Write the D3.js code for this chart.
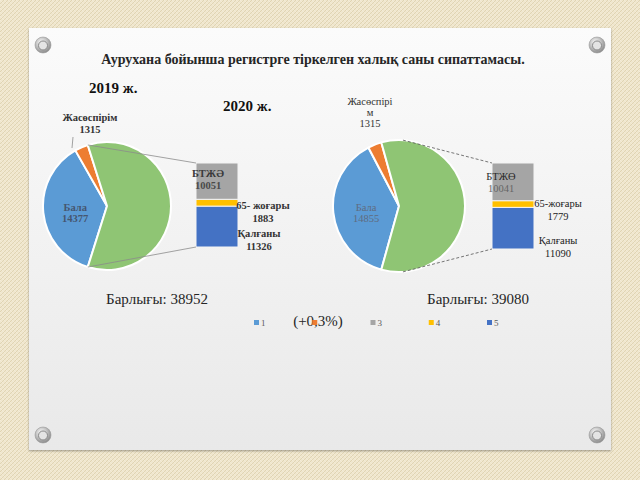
<!DOCTYPE html>
<html><head><meta charset="utf-8">
<script src="https://cdn.jsdelivr.net/npm/d3@7"></script>
<style>html,body{margin:0;padding:0;background:#eee5cb;} svg{display:block}</style>
</head><body>
<script>
// ---------- DATA ----------
const title = "Аурухана бойынша регистрге тіркелген халық саны сипаттамасы.";
const years = ["2019 ж.", "2020 ж."];
const pieLabels2019 = ["Бала", "Жасөспірім"];
const pieValues2019 = [14377, 1315];
const barLabels2019 = ["БТЖӘ", "65- жоғары", "Қалғаны"];
const barValues2019 = [10051, 1883, 11326];
const pieLabels2020 = ["Бала", "Жасөспірі\nм"];
const pieValues2020 = [14855, 1315];
const barLabels2020 = ["БТЖӨ", "65-жоғары", "Қалғаны"];
const barValues2020 = [10041, 1779, 11090];
const totalPrefix = "Барлығы: ";
const changeLabel = "(+0,3%)";
const legendLabels = ["1", "2", "3", "4", "5"];

// ---------- STYLE / LAYOUT ----------
const W = 640, H = 480;
const pieColors = ["#5b9bd5", "#ed7d31", "#8fc574"];
const barColors = ["#a5a5a5", "#ffc000", "#4472c4"];
const legendColors = ["#5b9bd5", "#ed7d31", "#a5a5a5", "#ffc000", "#4472c4"];
const serif = "Liberation Serif";

const charts = [
  { pieLabels: pieLabels2019, pieValues: pieValues2019, barLabels: barLabels2019, barValues: barValues2019,
    cx: 107, cy: 206, r: 64, barX: 196, barW: 42, barTop: 163, barBottom: 247,
    connAngles: null, dash: null, connColor: "#8c8c8c", bold: true,
    teenPos: [90, 121], teenLeader: [[72, 148], [73, 137]],
    babyColor: "#465670",
    barLabelPos: [[208, 177], [263, 209], [259, 237]],
    barLabelColors: [["#3a3a3a", "#4a4a4a"], ["#333", "#333"], ["#333", "#333"]],
    totalX: 157, totalY: 304 },
  { pieLabels: pieLabels2020, pieValues: pieValues2020, barLabels: barLabels2020, barValues: barValues2020,
    cx: 399, cy: 206, r: 66, barX: 492, barW: 42, barTop: 163, barBottom: 249,
    connAngles: [0.06, Math.PI - 0.06], dash: "3,2", connColor: "#555", bold: false,
    teenPos: [370, 105], teenLeader: null,
    babyColor: "#5f6b80",
    barLabelPos: [[501, 180], [558, 207], [558, 244]],
    barLabelColors: [["#2a2a2a", "#666"], ["#222", "#222"], ["#222", "#222"]],
    totalX: 478, totalY: 304 }
];

const svg = d3.select("body").append("svg").attr("width", W).attr("height", H);
const defs = svg.append("defs");

// background texture
const pat = defs.append("pattern").attr("id", "tex").attr("width", 4).attr("height", 4)
  .attr("patternUnits", "userSpaceOnUse");
pat.append("rect").attr("width", 4).attr("height", 4).attr("fill", "#efe6cd");
pat.append("path").attr("d", "M0,4 L4,0").attr("stroke", "#e0d4b3").attr("stroke-width", 1);
pat.append("path").attr("d", "M0,0 L4,4").attr("stroke", "#f6efdc").attr("stroke-width", 0.6);
svg.append("rect").attr("width", W).attr("height", H).attr("fill", "url(#tex)");

// panel
const pg = defs.append("linearGradient").attr("id", "panel").attr("x1", 0).attr("y1", 0).attr("x2", 0).attr("y2", 1);
pg.append("stop").attr("offset", "0%").attr("stop-color", "#fbfbfb");
pg.append("stop").attr("offset", "100%").attr("stop-color", "#e9e9e9");
const sh = defs.append("filter").attr("id", "sh").attr("x", "-5%").attr("y", "-5%").attr("width", "110%").attr("height", "110%");
sh.append("feDropShadow").attr("dx", 0).attr("dy", 1).attr("stdDeviation", 1.2).attr("flood-color", "#000").attr("flood-opacity", 0.35);
svg.append("rect").attr("x", 29).attr("y", 28).attr("width", 582).attr("height", 422)
  .attr("fill", "url(#panel)").attr("filter", "url(#sh)");

// screws
const sg = defs.append("radialGradient").attr("id", "screw").attr("cx", "40%").attr("cy", "35%").attr("r", "65%");
sg.append("stop").attr("offset", "0%").attr("stop-color", "#ffffff");
sg.append("stop").attr("offset", "100%").attr("stop-color", "#8d8d8d");
[[43, 45], [597, 45], [43, 435], [597, 435]].forEach(([x, y]) => {
  svg.append("circle").attr("cx", x).attr("cy", y).attr("r", 8).attr("fill", "url(#screw)").attr("stroke", "#999").attr("stroke-width", 0.6);
  svg.append("circle").attr("cx", x).attr("cy", y + 0.5).attr("r", 4.5).attr("fill", "#e4e4e4").attr("stroke", "#8a8a8a").attr("stroke-width", 1);
});

// title & years
svg.append("text").attr("x", 313).attr("y", 64).attr("text-anchor", "middle")
  .attr("font-family", serif).attr("font-weight", "bold").attr("font-size", 14).attr("fill", "#262626").text(title);
svg.append("text").attr("x", 89).attr("y", 93).attr("font-family", serif).attr("font-weight", "bold")
  .attr("font-size", 15).attr("fill", "#111").text(years[0]);
svg.append("text").attr("x", 223).attr("y", 111).attr("font-family", serif).attr("font-weight", "bold")
  .attr("font-size", 15).attr("fill", "#111").text(years[1]);

function multi(g, x, y, lines, opts) {
  const t = g.append("text").attr("x", x).attr("y", y).attr("text-anchor", "middle")
    .attr("font-family", serif).attr("font-size", opts.size || 10.5)
    .attr("font-weight", opts.bold ? "bold" : "normal");
  lines.forEach((ln, i) => {
    t.append("tspan").attr("x", x).attr("dy", i === 0 ? 0 : (opts.lh || 11.5))
      .attr("fill", (opts.colors && opts.colors[i]) || opts.color || "#333").text(ln);
  });
  return t;
}

charts.forEach((c, ci) => {
  const g = svg.append("g");
  const otherTotal = d3.sum(c.barValues);
  const pieVals = c.pieValues.concat([otherTotal]);
  const total = d3.sum(pieVals);
  const gAngle = 2 * Math.PI * otherTotal / total;
  const start = Math.PI / 2 + gAngle / 2;
  const pie = d3.pie().sort(null).startAngle(start).endAngle(start + 2 * Math.PI);
  const arcs = pie(pieVals);
  const arc = d3.arc().innerRadius(0).outerRadius(c.r);
  const pg2 = g.append("g").attr("transform", `translate(${c.cx},${c.cy})`);
  pg2.selectAll("path").data(arcs).join("path")
    .attr("d", arc).attr("fill", (d, i) => pieColors[i])
    .attr("stroke", "#ffffff").attr("stroke-width", 2).attr("stroke-linejoin", "round");

  // bar of pie
  const y = d3.scaleLinear().domain([0, otherTotal]).range([c.barBottom, c.barTop]);
  const stackVals = c.barValues.slice().reverse();
  let acc = 0;
  const segs = stackVals.map((v, i) => { const s = { y0: acc, y1: acc + v, color: barColors[barColors.length - 1 - i] }; acc += v; return s; });
  g.selectAll("rect.seg").data(segs).join("rect").attr("class", "seg")
    .attr("x", c.barX).attr("width", c.barW)
    .attr("y", d => y(d.y1)).attr("height", d => y(d.y0) - y(d.y1))
    .attr("fill", d => d.color).attr("stroke", "#f4f4f4").attr("stroke-width", 1);

  // connectors
  const green = arcs[2];
  const a1 = c.connAngles ? c.connAngles[0] : green.startAngle;
  const a2 = c.connAngles ? c.connAngles[1] : green.endAngle;
  const pt = a => [c.cx + c.r * Math.sin(a), c.cy - c.r * Math.cos(a)];
  const p1 = pt(a1), p2 = pt(a2);
  const line = d3.line();
  [[p1, [c.barX, y(otherTotal)]], [p2, [c.barX, y(0)]]].forEach(seg => {
    g.append("path").attr("d", line(seg)).attr("stroke", c.connColor).attr("stroke-width", 0.8)
      .attr("fill", "none").attr("stroke-dasharray", c.dash);
  });

  // Бала label at centroid
  const cen = arc.centroid(arcs[0]);
  multi(g, c.cx + cen[0], c.cy + cen[1] + 2, [c.pieLabels[0], String(c.pieValues[0])],
    { color: c.babyColor, bold: c.bold, size: 10.5, lh: 10.5 });

  // Жасөспірім label
  const teenLines = c.pieLabels[1].split("\n").concat([String(c.pieValues[1])]);
  multi(g, c.teenPos[0], c.teenPos[1], teenLines, { color: "#333", bold: c.bold, size: 10.5, lh: teenLines.length > 2 ? 11 : 12 });
  if (c.teenLeader) {
    g.append("path").attr("d", line(c.teenLeader)).attr("stroke", "#8c8c8c").attr("stroke-width", 0.8).attr("fill", "none");
  }

  // bar labels
  c.barLabels.forEach((lab, i) => {
    const p = c.barLabelPos[i];
    multi(g, p[0], p[1], [lab, String(c.barValues[i])], { colors: c.barLabelColors[i], bold: c.bold, size: 10.5, lh: i === 0 ? 11.5 : 13 });
  });

  // total
  g.append("text").attr("x", c.totalX).attr("y", c.totalY).attr("text-anchor", "middle")
    .attr("font-family", serif).attr("font-size", 15).attr("fill", "#262626")
    .text(totalPrefix + d3.sum(pieVals));
});

// change label
svg.append("text").attr("x", 318).attr("y", 326).attr("text-anchor", "middle")
  .attr("font-family", serif).attr("font-size", 15).attr("fill", "#262626").text(changeLabel);

// legend
const lx = d3.scalePoint().domain(legendLabels).range([254, 487]);
const lg = svg.append("g");
legendLabels.forEach((l, i) => {
  lg.append("rect").attr("x", lx(l)).attr("y", 320).attr("width", 5).attr("height", 5)
    .attr("fill", legendColors[i]);
  if (i !== 1) lg.append("text").attr("x", lx(l) + 7).attr("y", 325.5).attr("font-family", serif)
    .attr("font-size", 9).attr("fill", "#595959").text(l);
});
</script>
</body></html>
